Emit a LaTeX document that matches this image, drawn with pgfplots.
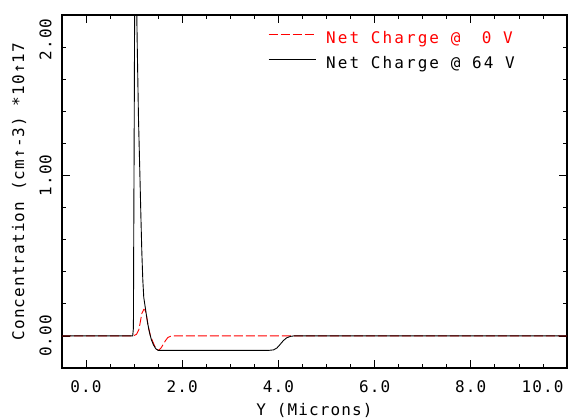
\documentclass[border=0pt]{standalone}
\usepackage{fontspec}
\setmainfont{DejaVu Sans Mono}[LetterSpace=7]
\newfontfamily\legfont{DejaVu Sans Mono}[LetterSpace=13]
\usepackage{pgfplots}
\pgfplotsset{compat=1.18}
\begin{document}
\begin{tikzpicture}
\useasboundingbox (-62bp,-50bp) rectangle (508bp,368bp);
\begin{axis}[
  at={(0,0)}, anchor=south west,
  scale only axis, width=505bp, height=353bp,
  xmin=-0.5, xmax=10, ymin=-0.2, ymax=2,
  xtick={0,2,4,6,8}, ytick={0,1},
  extra x ticks={10}, extra x tick labels={10.0},
  extra x tick style={xticklabel style={anchor=north east}},
  extra y ticks={2}, extra y tick labels={2.00},
  extra y tick style={yticklabel style={anchor=south east}},
  minor xtick={0.5,1,1.5,2.5,3,3.5,4.5,5,5.5,6.5,7,7.5,8.5,9,9.5},
  minor ytick={-0.2,0.2,0.4,0.6,0.8,1.2,1.4,1.6,1.8},
  tick align=inside, major tick length=8bp, minor tick length=4bp,
  every tick/.style={black, line width=0.8bp},
  axis line style={line width=1.2bp},
  font=\fontsize{16bp}{19bp}\selectfont,
  /pgf/number format/assume math mode=true,
  xticklabel style={/pgf/number format/.cd, fixed, fixed zerofill, precision=1, /tikz/.cd, yshift=-9bp},
  yticklabel style={/pgf/number format/.cd, fixed, fixed zerofill, precision=2, /tikz/.cd, xshift=-7bp, rotate=90, anchor=south},
  xlabel={Y (Microns)},
  ylabel={Concentration (cm↑-3) *10↑17},
  xlabel style={at={(axis description cs:0.5,-0.119)}, anchor=center},
  ylabel style={at={(axis description cs:-0.085,0.5)}, anchor=center},
  legend style={at={(axis description cs:0.408,0.895)}, anchor=west, draw=none, fill=none,
    inner sep=0pt, row sep=9bp, font=\legfont\fontsize{16bp}{19bp}\selectfont,
    nodes={inner sep=0pt, text height=12bp, text depth=4bp},
    /tikz/every odd column/.append style={column sep=10bp}},
  legend cell align=left,
  legend image code/.code={\draw[#1] (0bp,5.5bp) -- (47bp,5.5bp);},
]
\addplot[red, line width=0.9bp, dash pattern=on 9bp off 3bp] coordinates {
(-0.5,0) (0.98,0) (1.05,0.01) (1.10,0.04) (1.13,0.09) (1.16,0.14) (1.20,0.165)
(1.23,0.16) (1.26,0.12) (1.30,0.05) (1.34,0.0) (1.38,-0.03) (1.43,-0.065)
(1.48,-0.085) (1.51,-0.09) (1.56,-0.075) (1.60,-0.055) (1.65,-0.03) (1.70,-0.01)
(1.76,-0.002) (1.80,0) (10,0)};
\addlegendentry{\textcolor{red}{Net Charge @ \phantom{6}0 V}}
\addplot[black, line width=0.9bp] coordinates {
(-0.5,0) (0.97,0) (0.985,0.05) (0.99,0.5) (1.0,1.2) (1.01,2.0) (1.03,2.6)
(1.045,2.4) (1.055,2.0) (1.065,1.8) (1.09,1.36) (1.12,1.0) (1.14,0.75)
(1.16,0.52) (1.18,0.35) (1.20,0.24) (1.25,0.14) (1.28,0.08) (1.32,0.02)
(1.36,-0.025) (1.40,-0.055) (1.45,-0.08) (1.50,-0.09) (3.80,-0.09)
(3.90,-0.087) (3.97,-0.075) (4.03,-0.055) (4.10,-0.03) (4.17,-0.012)
(4.25,-0.003) (4.32,0) (10,0)};
\addlegendentry{Net Charge @ 64 V}
\end{axis}
\end{tikzpicture}
\end{document}
